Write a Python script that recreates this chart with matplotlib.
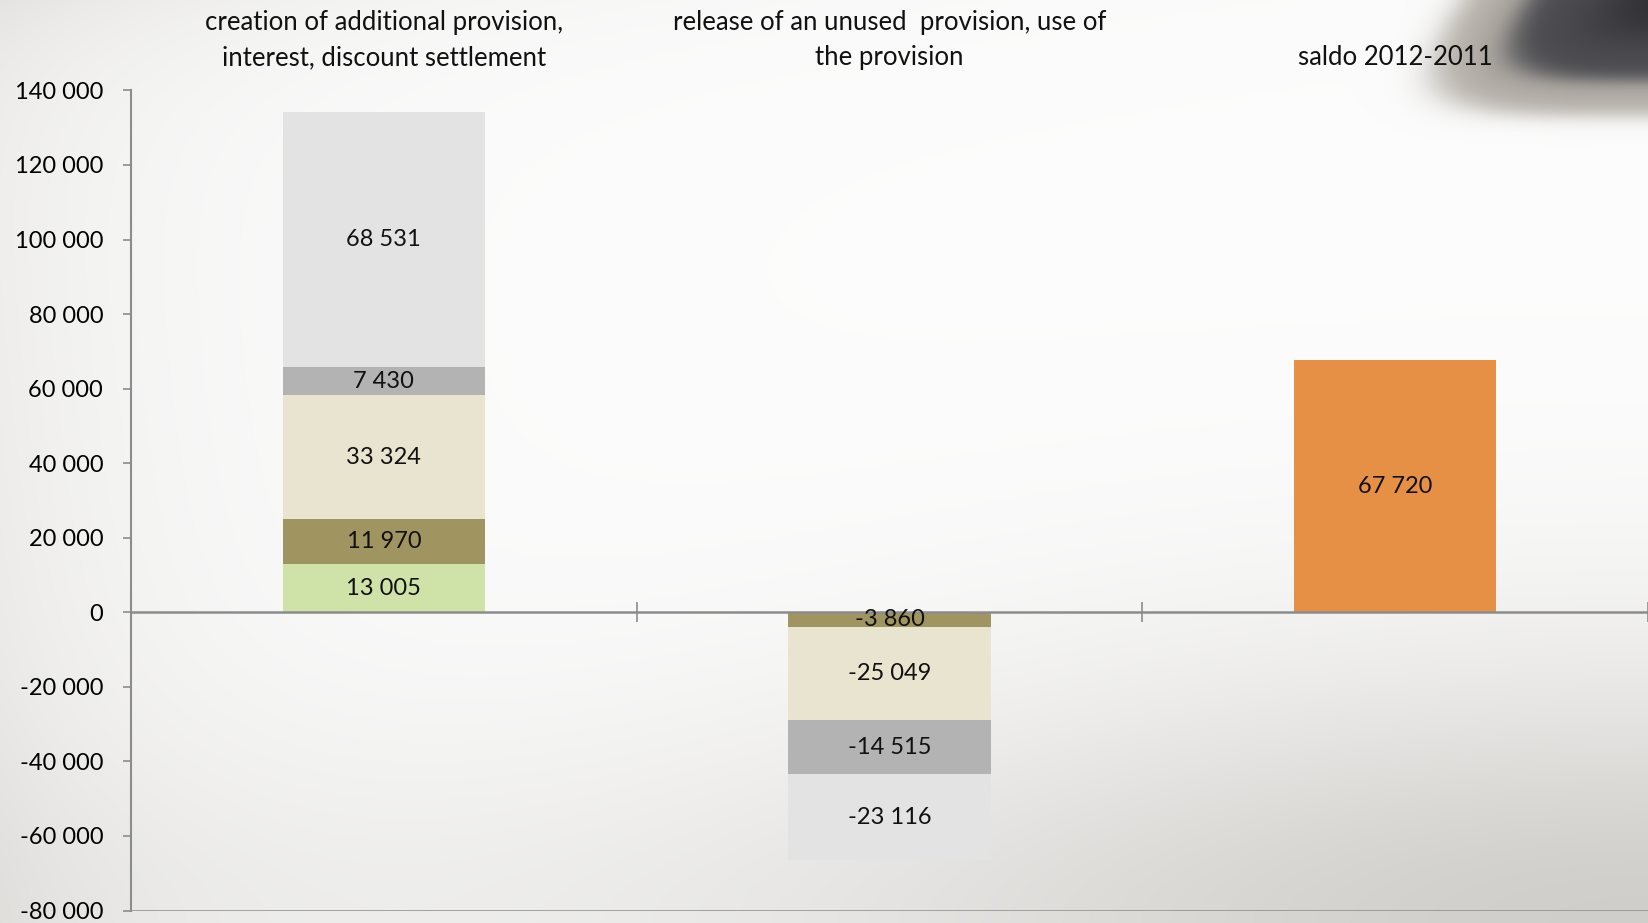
import numpy as np
import matplotlib.pyplot as plt
from matplotlib.ticker import FuncFormatter, FixedLocator

plt.rcParams['font.family'] = ['Lato', 'DejaVu Sans']

categories = ['creation of additional provision,\ninterest, discount settlement',
              'release of an unused  provision, use of\nthe provision',
              'saldo 2012-2011']

# stacked segments, from the zero line outwards
creation_vals = [13005, 11970, 33324, 7430, 68531]
creation_cols = ['#cfe2a8', '#a09560', '#e8e4cf', '#b3b3b3', '#e3e3e3']
release_vals = [-3860, -25049, -14515, -23116]
release_cols = ['#a09560', '#e8e4cf', '#b3b3b3', '#e3e3e3']
saldo_vals = [67720]
saldo_cols = ['#e69046']

W, H = 1649, 923
fig = plt.figure(figsize=(W / 100, H / 100), dpi=100)

# soft slide background: grey at the left edge, warm grey towards bottom right
xx, yy = np.meshgrid(np.linspace(0, 1, W), np.linspace(0, 1, H))
shade = 0.075 * np.exp(-xx / 0.12) * (0.6 + 0.4 * yy)
shade += 0.05 * np.exp(-yy / 0.08) * np.exp(-xx / 0.35)
d = np.sqrt((1 - xx) ** 2 + ((1 - yy) * 1.6) ** 2)
shade += 0.14 * np.exp(-(d / 0.5) ** 2)
shade += 0.035 * np.exp(-((1 - yy) / 0.2) ** 2)
bg = np.ones((H, W, 3)) * 0.99
bg[..., 0] -= shade
bg[..., 1] -= shade * 1.03
bg[..., 2] -= shade * 1.12

# dark blurred object in the top right corner
px, py = np.meshgrid(np.arange(W), np.arange(H))
u = (px - 1712 + 0.6 * py) / 250.0
v = (py + 20) / 135.0
r = (np.abs(u) ** 4 + np.abs(v) ** 4) ** 0.25
outer = 1 / (1 + np.exp((r - 1.0) / 0.04))
inner = 1 / (1 + np.exp((r - 0.74) / 0.035))
core = 1 / (1 + np.exp((r - 0.4) / 0.08))
edge_col = np.array([0.70, 0.68, 0.65])
mid_col = np.array([0.30, 0.30, 0.32])
dark_col = np.array([0.18, 0.18, 0.20])
obj = edge_col * (1 - inner[..., None]) + mid_col * inner[..., None]
obj = obj * (1 - core[..., None]) + dark_col * core[..., None]
bg = bg * (1 - outer[..., None]) + obj * outer[..., None]

bg_ax = fig.add_axes([0, 0, 1, 1], zorder=-1)
bg_ax.imshow(np.clip(bg, 0, 1), aspect='auto', interpolation='bilinear')
bg_ax.axis('off')

ax = fig.add_axes([131 / W, 1 - 910.5 / H, 1 - 132 / W, (910.5 - 90.4) / H])
ax.patch.set_alpha(0)

x = np.arange(len(categories))
width = 0.4
for i, (vals, cols) in enumerate([(creation_vals, creation_cols),
                                   (release_vals, release_cols),
                                   (saldo_vals, saldo_cols)]):
    base = 0
    for val, c in zip(vals, cols):
        ax.bar(x[i], val, width, bottom=base, color=c, linewidth=0, zorder=2)
        ax.text(x[i], base + val / 2, f'{val:,}'.replace(',', ' '),
                ha='center', va='center', fontsize=17, color='#111111', zorder=3)
        base += val

ax.set_xlim(-0.5, 2.5)
ax.set_ylim(-80000, 140000)
ax.set_yticks(np.arange(-80000, 140001, 20000))
ax.yaxis.set_major_formatter(FuncFormatter(lambda t, p: f'{int(t):,}'.replace(',', ' ')))
ax.tick_params(axis='y', length=6, width=1.2, color='#8c8c8c', pad=14, labelsize=17)

ax.xaxis.set_major_locator(FixedLocator([-0.5, 0.5, 1.5, 2.5]))
ax.set_xticklabels([])
ax.tick_params(axis='x', direction='inout', length=14, width=1.2, color='#8c8c8c')

for s in ['top', 'right']:
    ax.spines[s].set_visible(False)
ax.spines['bottom'].set_position(('data', 0))
ax.spines['bottom'].set_color('#8c8c8c')
ax.spines['bottom'].set_linewidth(1.8)
ax.spines['left'].set_color('#8c8c8c')
ax.spines['left'].set_linewidth(1.5)
ax.axhline(-80000, color='#8c8c8c', lw=1.8, zorder=1)

for i, lab in enumerate(categories):
    ax.text(x[i], 1 + 20 / 820, lab, transform=ax.get_xaxis_transform(),
            ha='center', va='bottom', fontsize=18.5, linespacing=1.54, color='#111111')

fig.savefig('out.png', dpi=100)
